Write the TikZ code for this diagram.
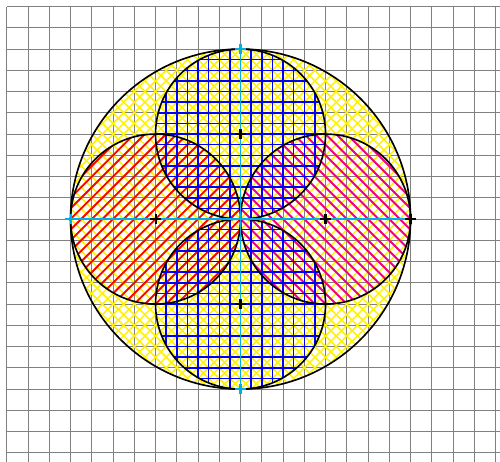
\documentclass[tikz,border=0pt]{standalone}
\tikzset{
  gridline/.style={draw=gray, line width=1.3pt},
  hatchY/.style={draw=yellow, line width=2.1pt},
  hatchR/.style={draw=red, line width=2.5pt},
  hatchM/.style={draw=magenta, line width=2.6pt},
  hatchB/.style={draw=blue, line width=2pt},
  outline/.style={draw=black, line width=2.2pt},
  axisline/.style={draw=cyan, line width=2.4pt},
  plusmark/.pic={\draw[line width=2.8pt] (-0.25,0)--(0.25,0) (0,-0.25)--(0,0.25);}
}
\begin{document}
\begin{tikzpicture}[x=1cm,y=1cm]
\useasboundingbox (-11.32,-11.39) rectangle (12.21,10.31);
\clip (-11.32,-11.39) rectangle (12.21,10.31);
% background grid
\draw[gridline] (-11,-12) grid[step=1] (13,10);
% named points
\coordinate (O) at (0,0);
\coordinate (T) at (0,8);
\coordinate (B) at (0,-8);
\coordinate (L) at (-8,0);
\coordinate (R) at (8,0);
\coordinate (cT) at (0,4);
\coordinate (cB) at (0,-4);
\coordinate (cL) at (-4,0);
\coordinate (cR) at (4,0);
% yellow crosshatch in big circle
\begin{scope}
  \clip (O) circle (8);
  \foreach \k in {-34,...,34} {
    \draw[hatchY] (-9,-9+\k*0.5) -- (9,9+\k*0.5);
    \draw[hatchY] (-9,9+\k*0.5) -- (9,-9+\k*0.5);
  }
\end{scope}
% red hatch in left circle
\begin{scope}
  \clip (cL) circle (4);
  \foreach \k in {-34,...,34} {
    \draw[hatchR] (-9,-9+\k*0.5) -- (9,9+\k*0.5);
  }
\end{scope}
% magenta hatch in right circle
\begin{scope}
  \clip (cR) circle (4);
  \foreach \k in {-34,...,34} {
    \draw[hatchM] (-9,9+\k*0.5) -- (9,-9+\k*0.5);
  }
\end{scope}
% blue grid in top and bottom circles
\begin{scope}
  \clip (cT) circle (4);
  \foreach \k in {-9,...,9} {
    \draw[hatchB] (\k*0.5,-1) -- (\k*0.5,9);
  }
  \foreach \k in {-2,...,18} {
    \draw[hatchB] (-5,\k*0.5) -- (5,\k*0.5);
  }
\end{scope}
\begin{scope}
  \clip (cB) circle (4);
  \foreach \k in {-9,...,9} {
    \draw[hatchB] (\k*0.5,1) -- (\k*0.5,-9);
  }
  \foreach \k in {-18,...,2} {
    \draw[hatchB] (-5,\k*0.5) -- (5,\k*0.5);
  }
\end{scope}
% outlines
\draw[outline] (O) circle (8);
\draw[outline] (cT) circle (4);
\draw[outline] (cB) circle (4);
\draw[outline] (cL) circle (4);
\draw[outline] (cR) circle (4);
% cyan axes
\draw[axisline] (T) -- (B);
\draw[axisline] (L) -- (R);
% markers
\pic[draw=cyan] at (T) {plusmark};
\pic[draw=cyan] at (B) {plusmark};
\pic[draw=cyan] at (L) {plusmark};
\pic[draw=black] at (R) {plusmark};
\pic[draw=black] at (cT) {plusmark};
\pic[draw=black] at (cB) {plusmark};
\pic[draw=black] at (cL) {plusmark};
\pic[draw=black] at (cR) {plusmark};
\end{tikzpicture}
\end{document}
